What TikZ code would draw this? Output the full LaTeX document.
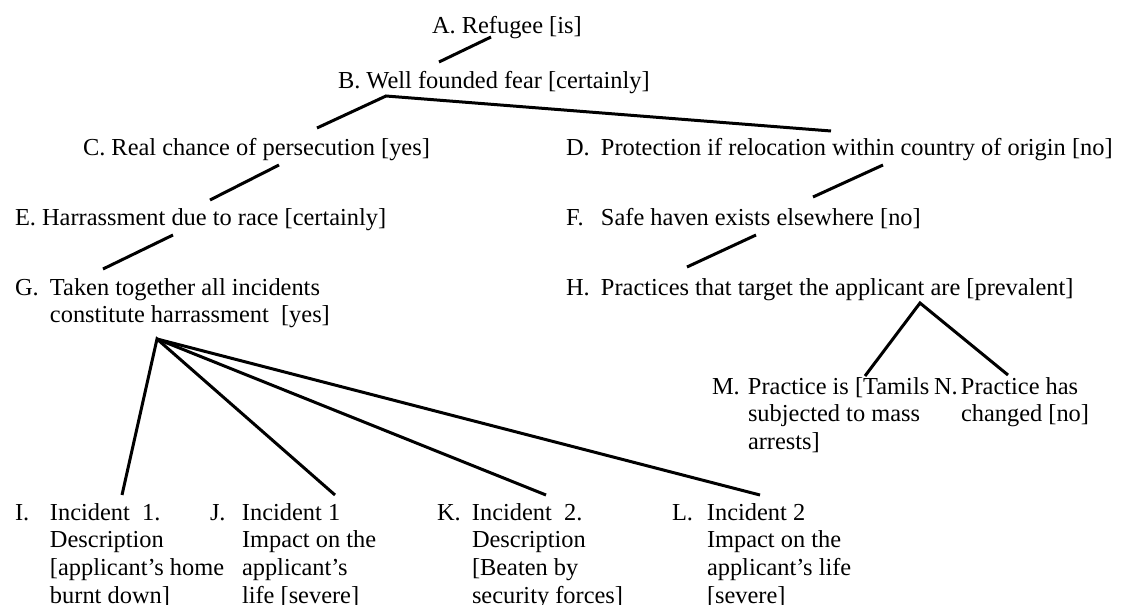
\documentclass[tikz,border=0pt]{standalone}
\usepackage{fontspec}
\setmainfont{Liberation Serif}
\newcommand\hangitem[3]{\makebox[#1pt][l]{#2}\begin{tabular}[t]{@{}l@{}}#3\end{tabular}}
\tikzset{
  txt/.style={anchor=base west, inner sep=0pt, outer sep=0pt, font=\fontsize{24.4}{27.8}\selectfont},
  link/.style={line width=3pt, black}
}
\begin{document}
\begin{tikzpicture}[x=1pt, y=-1pt]
\useasboundingbox[fill=white] (0,0) rectangle (1122,605);
% nodes
\node[txt] (A) at (432,34) {A. Refugee [is]};
\node[txt] (B) at (338,88) {B. Well founded fear [certainly]};
\node[txt] (C) at (83,155) {C. Real chance of persecution [yes]};
\node[txt] (D) at (566,155) {\hangitem{35}{D.}{Protection if relocation within country of origin [no]}};
\node[txt] (E) at (15,225) {E. Harrassment due to race [certainly]};
\node[txt] (F) at (566,225) {\hangitem{35}{F.}{Safe haven exists elsewhere [no]}};
\node[txt] (G) at (15,295) {\hangitem{35}{G.}{Taken together all incidents\\constitute harrassment\ \ [yes]}};
\node[txt] (H) at (566,295) {\hangitem{35}{H.}{Practices that target the applicant are [prevalent]}};
\node[txt] (M) at (712,394) {\hangitem{36}{M.}{Practice is [Tamils\\subjected to mass\\arrests]}};
\node[txt] (N) at (934,394) {\hangitem{27}{N.}{Practice has\\changed [no]}};
\node[txt] (I) at (15,520) {\hangitem{35}{I.}{Incident\ \ 1.\\Description\\{[applicant's home}\\burnt down]}};
\node[txt] (J) at (210,520) {\hangitem{32}{J.}{Incident 1\\Impact on the\\applicant's\\life [severe]}};
\node[txt] (K) at (437,520) {\hangitem{35}{K.}{Incident\ \ 2.\\Description\\{[Beaten by}\\security forces]}};
\node[txt] (L) at (672,520) {\hangitem{35}{L.}{Incident 2\\Impact on the\\applicant's life\\{[severe]}}};
% connector end points
\coordinate (a-b) at (491,37);
\coordinate (b-a) at (439,62);
\coordinate (b-down) at (386,96);
\coordinate (c-b) at (317,128);
\coordinate (d-b) at (831,131);
\coordinate (c-e) at (279,165);
\coordinate (e-c) at (210,200);
\coordinate (e-g) at (173,235);
\coordinate (g-e) at (103,269);
\coordinate (d-f) at (883,165);
\coordinate (f-d) at (813,197);
\coordinate (f-h) at (756,235);
\coordinate (h-f) at (687,267);
\coordinate (g-down) at (157,339);
\coordinate (i-g) at (122,495);
\coordinate (j-g) at (335,495);
\coordinate (k-g) at (546,495);
\coordinate (l-g) at (760,495);
\coordinate (h-down) at (920,303);
\coordinate (m-h) at (865,376);
\coordinate (n-h) at (1008,375);
% connectors
\draw[link] (a-b) -- (b-a);
\draw[link] (c-b) -- (b-down) -- (d-b);
\draw[link] (c-e) -- (e-c);
\draw[link] (e-g) -- (g-e);
\draw[link] (d-f) -- (f-d);
\draw[link] (f-h) -- (h-f);
\draw[link] (i-g) -- (g-down) -- (j-g);
\draw[link] (g-down) -- (k-g);
\draw[link] (g-down) -- (l-g);
\draw[link] (m-h) -- (h-down) -- (n-h);
\end{tikzpicture}
\end{document}
